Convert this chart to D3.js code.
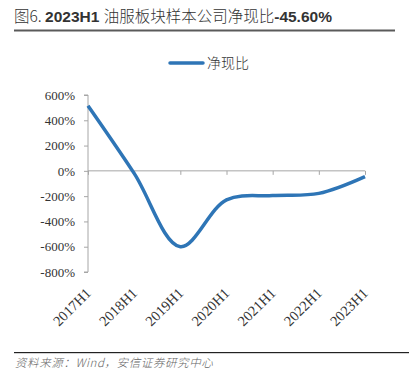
<!DOCTYPE html>
<html>
<head>
<meta charset="utf-8">
<script src="https://cdn.jsdelivr.net/npm/d3@7"></script>
<style>
  body { margin: 0; background: #fff; }
  svg { display: block; }
</style>
</head>
<body>
<div id="chart"></div>
<script>
const categories = ['2017H1', '2018H1', '2019H1', '2020H1', '2021H1', '2022H1', '2023H1']
const ratio = [515, -20, -600, -230, -195, -178, -45.6]
const yTicks = [600, 400, 200, 0, -200, -400, -600, -800]

const W = 409, H = 384
const svg = d3.select('#chart').append('svg')
  .attr('width', W).attr('height', H)

// title
const title = svg.append('text')
  .attr('x', 14).attr('y', 22)
  .attr('font-size', 15.5).attr('fill', '#333')
title.append('tspan').attr('font-family', '"Noto Sans CJK SC"').attr('font-weight', 300).text('图6. ')
title.append('tspan').attr('font-family', 'Liberation Sans, Arial').attr('font-weight', 'bold').text('2023H1 ')
title.append('tspan').attr('font-family', '"Noto Sans CJK SC"').attr('font-weight', 300).text('油服板块样本公司净现比')
title.append('tspan').attr('font-family', 'Liberation Sans, Arial').attr('font-weight', 'bold').text('-45.60%')

svg.append('rect').attr('x', 14).attr('y', 29.5).attr('width', 381).attr('height', 2).attr('fill', '#5a5a5a')

const x = d3.scalePoint().domain(categories).range([88, 365])
const y = d3.scaleLinear().domain([-800, 600]).range([272, 95])

// y axis
const yAxis = svg.append('g').attr('transform', 'translate(88,0)')
  .call(d3.axisLeft(y).tickValues(yTicks).tickSize(4).tickPadding(9).tickFormat(d => d + '%'))
yAxis.select('.domain').attr('stroke', '#a6a6a6').attr('d', `M-4,${y(600)}H0V${y(-800)}H-4`)
yAxis.selectAll('.tick line').attr('stroke', '#a6a6a6')
yAxis.selectAll('.tick text').attr('font-family', 'Liberation Serif, Times New Roman')
  .attr('font-size', 13).attr('fill', '#333')

// x axis at zero
const xAxis = svg.append('g').attr('transform', `translate(0,${y(0)})`)
  .call(d3.axisBottom(x).tickSize(4).tickFormat(''))
xAxis.select('.domain').attr('stroke', '#a6a6a6').attr('d', `M88,0H365`)
xAxis.selectAll('.tick line').attr('stroke', '#a6a6a6')

// rotated category labels
svg.append('g').selectAll('text').data(categories).enter().append('text')
  .attr('transform', d => `translate(${x(d) + 4},${294}) rotate(-45)`)
  .attr('text-anchor', 'end')
  .attr('font-family', 'Liberation Serif, Times New Roman')
  .attr('font-size', 14.5).attr('fill', '#333')
  .text(d => d)

// line
const line = d3.line()
  .x((d, i) => x(categories[i]))
  .y(d => y(d))
  .curve(d3.curveCatmullRom.alpha(0.5))
svg.append('path').datum(ratio)
  .attr('d', line)
  .attr('fill', 'none').attr('stroke', '#2e75b6').attr('stroke-width', 3.5)
  .attr('stroke-linejoin', 'round')

// legend
svg.append('line').attr('x1', 170).attr('x2', 203).attr('y1', 63).attr('y2', 63)
  .attr('stroke', '#2e75b6').attr('stroke-width', 3.5).attr('stroke-linecap', 'round')
svg.append('text').attr('x', 207).attr('y', 68)
  .attr('font-family', '"Noto Sans CJK SC"').attr('font-weight', 300)
  .attr('font-size', 14).attr('fill', '#333').text('净现比')

// footer
svg.append('rect').attr('x', 14).attr('y', 352).attr('width', 395).attr('height', 1.2).attr('fill', '#222')
svg.append('text').attr('x', 15).attr('y', 367)
  .attr('font-family', '"Noto Sans CJK SC"').attr('font-style', 'italic').attr('font-weight', 300)
  .attr('font-size', 11.5).attr('letter-spacing', 0.6).attr('fill', '#666').text('资料来源：Wind，安信证券研究中心')
</script>
</body>
</html>
